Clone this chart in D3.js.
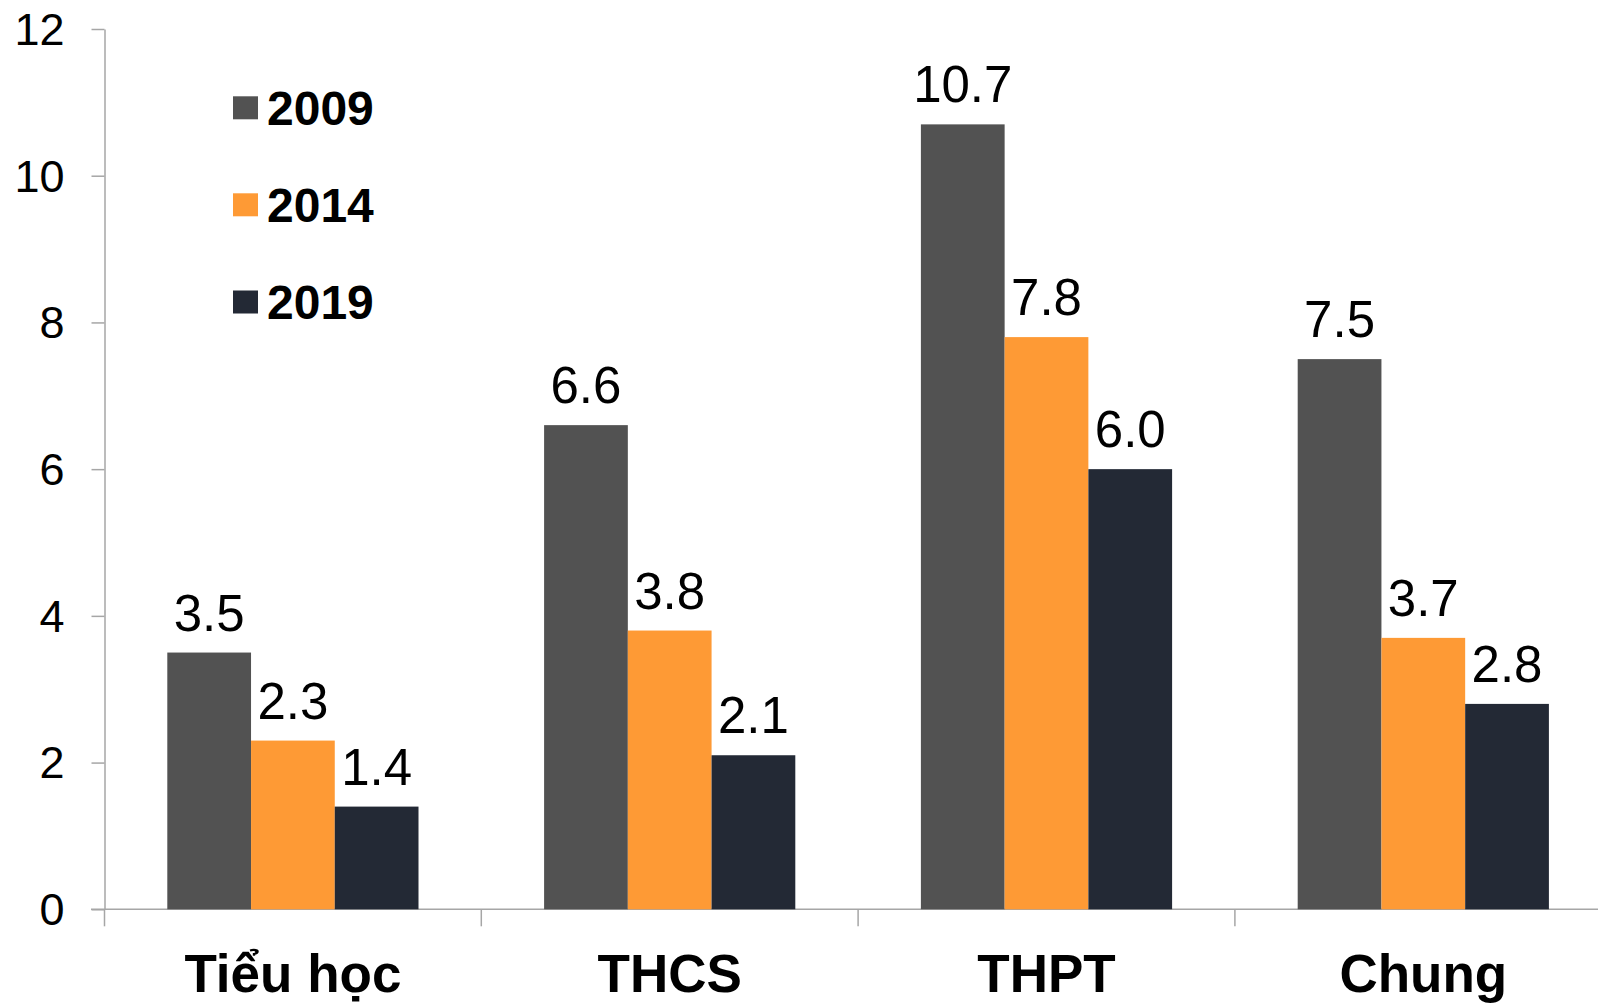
<!DOCTYPE html>
<html><head><meta charset="utf-8">
<script src="https://cdn.jsdelivr.net/npm/d3@7"></script>
<style>
html,body{margin:0;padding:0;background:#fff;overflow:hidden;}
svg{display:block;font-family:"Liberation Sans",Arial,sans-serif;}
</style></head>
<body>
<svg id="chart" width="1598" height="1004"></svg>
<script>
const categories = ["Tiểu học", "THCS", "THPT", "Chung"];
const seriesNames = ["2009", "2014", "2019"];
const values2009 = [3.5, 6.6, 10.7, 7.5];
const values2014 = [2.3, 3.8, 7.8, 3.7];
const values2019 = [1.4, 2.1, 6.0, 2.8];
const colors = ["#525252", "#FE9A35", "#232935"];
const yTicks = [0, 2, 4, 6, 8, 10, 12];

const seriesValues = [values2009, values2014, values2019];
const svg = d3.select("#chart");

const x0 = d3.scaleBand().domain(categories).range([104.5, 1611.7]).padding(0);
const x1 = d3.scaleBand().domain(seriesNames).range([0, x0.bandwidth()]).paddingInner(0).paddingOuter(0.75);
const y = d3.scaleLinear().domain([0, 12]).range([909.3, 29]);

const axisColor = "#A6A6A6";

// y axis
const yAxis = d3.axisLeft(y).tickValues(yTicks).tickSize(13).tickSizeOuter(0).tickFormat(d3.format("d"));
const gy = svg.append("g").attr("transform", "translate(104.5,0)").call(yAxis);
gy.select(".domain").attr("stroke", axisColor).attr("stroke-width", 1.5);
gy.selectAll(".tick line").attr("stroke", axisColor).attr("stroke-width", 1.5);
gy.selectAll(".tick text").attr("font-size", 45).attr("fill", "#000")
  .attr("font-family", "Liberation Sans, Arial, sans-serif")
  .attr("x", -40).attr("dy", "0.34em");
// extend y axis below baseline
svg.append("line").attr("x1", 104.5).attr("x2", 104.5).attr("y1", y(0)).attr("y2", y(0) + 17)
  .attr("stroke", axisColor).attr("stroke-width", 1.5);

// x axis line
svg.append("line").attr("x1", 91).attr("x2", 1598).attr("y1", y(0)).attr("y2", y(0))
  .attr("stroke", axisColor).attr("stroke-width", 1.5);
// category boundary ticks
svg.append("g").selectAll("line").data(categories.slice(1)).join("line")
  .attr("x1", d => x0(d)).attr("x2", d => x0(d))
  .attr("y1", y(0)).attr("y2", y(0) + 17)
  .attr("stroke", axisColor).attr("stroke-width", 1.5);

// bars
const groups = svg.append("g").selectAll("g").data(categories).join("g")
  .attr("transform", d => `translate(${x0(d)},0)`);
groups.each(function(cat, ci) {
  const g = d3.select(this);
  seriesNames.forEach((s, si) => {
    const v = seriesValues[si][ci];
    g.append("rect")
      .attr("x", x1(s)).attr("width", x1.bandwidth())
      .attr("y", y(v)).attr("height", y(0) - y(v))
      .attr("fill", colors[si]);
    g.append("text")
      .attr("x", x1(s) + x1.bandwidth() / 2)
      .attr("y", y(v) - 22)
      .attr("text-anchor", "middle")
      .attr("font-size", 51).attr("fill", "#000")
      .text(d3.format(".1f")(v));
  });
});

// category labels
svg.append("g").selectAll("text").data(categories).join("text")
  .attr("x", d => x0(d) + x0.bandwidth() / 2)
  .attr("y", 992)
  .attr("text-anchor", "middle")
  .attr("font-size", 53).attr("font-weight", "bold").attr("fill", "#000")
  .text(d => d);

// legend
const legendY = [107.8, 204.8, 302];
const lg = svg.append("g").selectAll("g").data(seriesNames).join("g");
lg.append("rect").attr("x", 233).attr("y", (d, i) => legendY[i] - 11.5)
  .attr("width", 25).attr("height", 23).attr("fill", (d, i) => colors[i]);
lg.append("text").attr("x", 267).attr("y", (d, i) => legendY[i] + 17)
  .attr("font-size", 48).attr("font-weight", "bold").attr("fill", "#000")
  .text(d => d);
</script>
</body></html>
